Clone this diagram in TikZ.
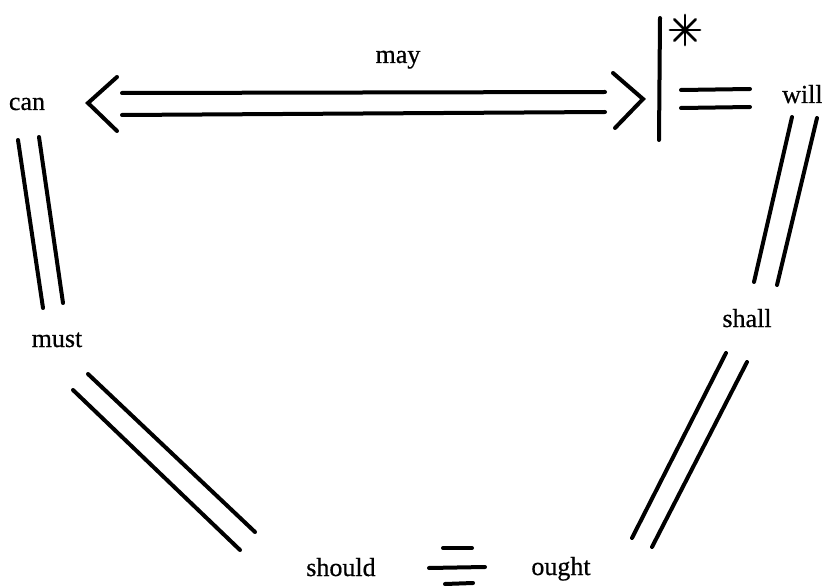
\documentclass[tikz,border=0pt]{standalone}
\usepackage{fontspec}
\setmainfont{Liberation Serif}
\newfontface\lblface{Liberation Serif}[FakeBold=0.6]
\usetikzlibrary{calc}
\begin{document}
\begin{tikzpicture}[x=1pt,y=-1pt,
  ln/.style={line width=4pt,line cap=round},
  thin/.style={line width=2.8pt,line cap=round},
  lbl/.style={font=\lblface\fontsize{26}{29}\selectfont,inner sep=0pt,anchor=base}]
\useasboundingbox (0,0) rectangle (822,588);
% labels
\node[lbl] (can) at (27,110) {can};
\node[lbl] (may) at (398,63) {may};
\node[lbl,anchor=base west] (will) at (782,103) {will};
\node[lbl] (must) at (57,347) {must};
\node[lbl] (shall) at (747,327) {shall};
\node[lbl] (should) at (341,576) {should};
\node[lbl] (ought) at (561,575) {ought};
% double arrow can <=> will
\coordinate (aL) at (88,103);
\coordinate (aLt) at (117,77);
\coordinate (aLb) at (117,131);
\coordinate (aR) at (643,99);
\coordinate (aRt) at (613,73);
\coordinate (aRb) at (615,128);
\draw[ln,line join=miter] (aLt) -- (aL) -- (aLb);
\draw[ln,line join=miter] (aRt) -- (aR) -- (aRb);
\coordinate (h1a) at (122,93); \coordinate (h1b) at (605,92);
\coordinate (h2a) at (122,115); \coordinate (h2b) at (605,112);
\draw[ln] (h1a) -- (h1b);
\draw[ln] (h2a) -- (h2b);
% negation bar, asterisk, equals
\coordinate (vT) at (660,18); \coordinate (vB) at (659,140);
\draw[ln] (vT) -- (vB);
\coordinate (ast) at (685,30);
\foreach \a in {0,45,90,135}
  \draw[thin] ($(ast)+(\a:15)$) -- ($(ast)+(\a+180:15)$);
\coordinate (e1a) at (681,90); \coordinate (e1b) at (750,89);
\coordinate (e2a) at (681,108); \coordinate (e2b) at (750,107);
\draw[ln] (e1a) -- (e1b);
\draw[ln] (e2a) -- (e2b);
% can = must
\coordinate (cm1a) at (18,140); \coordinate (cm1b) at (43,308);
\coordinate (cm2a) at (39,137); \coordinate (cm2b) at (63,303);
\draw[ln] (cm1a) -- (cm1b);
\draw[ln] (cm2a) -- (cm2b);
% will = shall
\coordinate (ws1a) at (792,117); \coordinate (ws1b) at (754,282);
\coordinate (ws2a) at (817,118); \coordinate (ws2b) at (777,285);
\draw[ln] (ws1a) -- (ws1b);
\draw[ln] (ws2a) -- (ws2b);
% must = should
\coordinate (ms1a) at (88,374); \coordinate (ms1b) at (255,532);
\coordinate (ms2a) at (73,390); \coordinate (ms2b) at (240,550);
\draw[ln] (ms1a) -- (ms1b);
\draw[ln] (ms2a) -- (ms2b);
% shall = ought
\coordinate (so1a) at (726,353); \coordinate (so1b) at (632,538);
\coordinate (so2a) at (747,362); \coordinate (so2b) at (652,547);
\draw[ln] (so1a) -- (so1b);
\draw[ln] (so2a) -- (so2b);
% should / ought sign
\coordinate (d1a) at (443,548); \coordinate (d1b) at (472,548);
\coordinate (d2a) at (429,568); \coordinate (d2b) at (485,567);
\coordinate (d3a) at (445,584); \coordinate (d3b) at (473,583);
\draw[ln] (d1a) -- (d1b);
\draw[ln] (d2a) -- (d2b);
\draw[ln] (d3a) -- (d3b);
\end{tikzpicture}
\end{document}
